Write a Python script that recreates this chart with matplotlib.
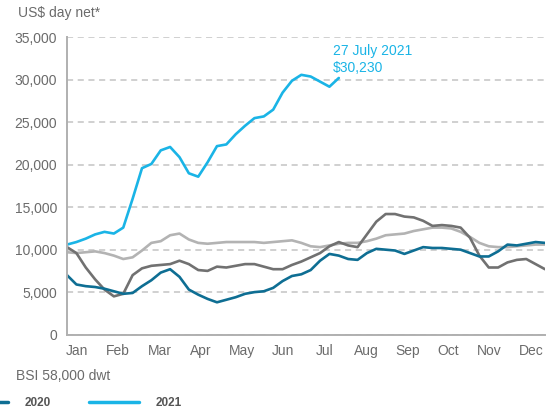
import numpy as np
import matplotlib
matplotlib.use("Agg")
import matplotlib.pyplot as plt

plt.rcParams['font.family'] = ['Liberation Sans', 'DejaVu Sans']

# weekly BSI 58,000 dwt time charter average, US$/day
months = ["Jan", "Feb", "Mar", "Apr", "May", "Jun",
          "Jul", "Aug", "Sep", "Oct", "Nov", "Dec"]

weeks = np.arange(1, 53)

avg_grey = [9.7, 9.6, 9.7, 9.8, 9.6, 9.3, 8.9, 9.1, 9.9, 10.8,
            11.0, 11.7, 11.9, 11.2, 10.8, 10.7, 10.8, 10.9, 10.9, 10.9,
            10.9, 10.8, 10.9, 11.0, 11.1, 10.8, 10.4, 10.3, 10.5, 10.7,
            10.8, 10.8, 11.0, 11.3, 11.7, 11.8, 11.9, 12.2, 12.4, 12.6,
            12.6, 12.5, 12.1, 11.5, 10.8, 10.4, 10.3, 10.3, 10.4, 10.5,
            10.6, 10.6]

dark_grey = [10.3, 9.6, 7.9, 6.5, 5.3, 4.5, 4.8, 7.0, 7.8, 8.1,
             8.2, 8.3, 8.7, 8.3, 7.6, 7.5, 8.0, 7.9, 8.1, 8.3,
             8.3, 8.0, 7.7, 7.7, 8.2, 8.6, 9.1, 9.6, 10.4, 10.9,
             10.5, 10.3, 11.8, 13.3, 14.2, 14.2, 13.9, 13.8, 13.4, 12.8,
             12.9, 12.8, 12.6, 11.4, 9.3, 7.9, 7.9, 8.5, 8.8, 8.9,
             8.3, 7.7]

y2020 = [7.0, 5.9, 5.7, 5.6, 5.4, 5.1, 4.8, 4.9, 5.7, 6.4,
         7.3, 7.7, 6.8, 5.3, 4.7, 4.2, 3.8, 4.1, 4.4, 4.8,
         5.0, 5.1, 5.5, 6.3, 6.9, 7.1, 7.6, 8.7, 9.5, 9.3,
         8.9, 8.8, 9.6, 10.1, 10.0, 9.9, 9.5, 9.9, 10.3, 10.2,
         10.2, 10.1, 10.0, 9.6, 9.2, 9.2, 9.8, 10.6, 10.5, 10.7,
         10.9, 10.8]

y2021 = [10.6, 10.9, 11.3, 11.8, 12.1, 11.9, 12.6, 16.0, 19.6, 20.1,
         21.7, 22.1, 20.9, 19.0, 18.6, 20.3, 22.2, 22.4, 23.6, 24.6,
         25.5, 25.7, 26.5, 28.5, 29.9, 30.6, 30.4, 29.8, 29.2, 30.23]

c2020 = '#0e6e93'
c2021 = '#1ab4e6'
text_grey = '#6b6b6b'

fig = plt.figure(figsize=(5.48, 4.11), dpi=100)
ax = fig.add_axes([0.1223, 0.186, 0.8722, 0.7228])

style = dict(lw=1.9, solid_joinstyle='round', solid_capstyle='round')
ax.plot(weeks, np.array(avg_grey) * 1000, color='#b3b3b3', **style)
ax.plot(weeks, np.array(dark_grey) * 1000, color='#717171', **style)
l20, = ax.plot(weeks, np.array(y2020) * 1000, color=c2020, label='2020', **style)
l21, = ax.plot(weeks[:len(y2021)], np.array(y2021) * 1000, color=c2021, label='2021', **style)

ax.annotate("27 July 2021\n$30,230", xy=(weeks[len(y2021) - 1], y2021[-1] * 1000),
            xytext=(-4, 2), textcoords='offset points', ha='left', va='bottom',
            color=c2021, fontsize=10, linespacing=1.25)

ax.set_xlim(1, 52)
ax.set_ylim(0, 35000)
ax.set_yticks(np.arange(0, 35001, 5000))
ax.set_yticklabels([f"{v:,}" for v in range(0, 35001, 5000)])
ax.set_xticks(np.linspace(2.07, 50.5, 12))
ax.set_xticklabels(months)
ax.tick_params(length=0, labelsize=10, labelcolor=text_grey)
ax.tick_params(axis='y', pad=7)
ax.tick_params(axis='x', pad=7)

ax.yaxis.grid(True, color='#c4c4c4', ls=(0, (4, 3)), lw=1.1)
ax.set_axisbelow(True)
for s in ['top', 'right']:
    ax.spines[s].set_visible(False)
for s in ['left', 'bottom']:
    ax.spines[s].set_color('#b0b0b0')
    ax.spines[s].set_linewidth(1.4)

fig.text(18 / 548, 1 - 13 / 411, "US$ day net*", fontsize=10, color=text_grey, va='center')
fig.text(16 / 548, 1 - 376 / 411, "BSI 58,000 dwt", fontsize=10, color=text_grey, va='center')

leg = fig.legend(handles=[l20, l21], loc='center left', bbox_to_anchor=(-42 / 548, 1 - 403 / 411),
                 ncol=2, frameon=False, borderpad=0, borderaxespad=0,
                 handlelength=4.25, handletextpad=1.4, columnspacing=3.2,
                 prop={'weight': 'bold', 'size': 8.5})
for t in leg.get_texts():
    t.set_color('#555555')
for h in leg.legend_handles:
    h.set_linewidth(2.5)

fig.savefig("out.png", dpi=100)
